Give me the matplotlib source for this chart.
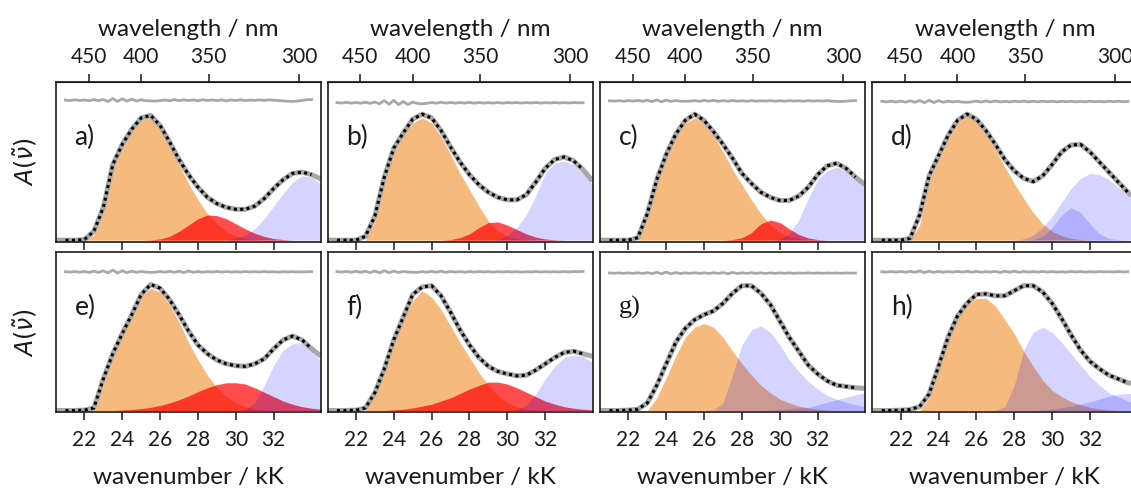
import numpy as np
import matplotlib
matplotlib.use("Agg")
import matplotlib.pyplot as plt

plt.rcParams['font.family'] = ['Lato', 'DejaVu Sans']
plt.rcParams['mathtext.fontset'] = 'dejavusans'

# wavenumber grid of the sampled spectra (kK)
wavenumber = np.arange(20.5, 34.51, 0.5)

panel_labels = ['a)', 'b)', 'c)', 'd)', 'e)', 'f)', 'g)', 'h)']
x_ticks = [22, 24, 26, 28, 30, 32]
nm_ticks = [450, 400, 350, 300]

# ---- fitted absorption spectra (normalised) ----
fit_a = [0, 0, 0, 0.005, 0.07, 0.26, 0.60, 0.76, 0.88, 0.97, 0.99, 0.91, 0.78, 0.64, 0.52,
         0.42, 0.34, 0.29, 0.26, 0.245, 0.245, 0.27, 0.33, 0.41, 0.48, 0.53, 0.54, 0.52, 0.485]
fit_b = [0, 0, 0, 0, 0.03, 0.19, 0.50, 0.73, 0.85, 0.96, 1.00, 0.97, 0.87, 0.74, 0.62,
         0.52, 0.44, 0.38, 0.34, 0.32, 0.32, 0.36, 0.46, 0.57, 0.64, 0.66, 0.63, 0.56, 0.47]
fit_c = [0, 0, 0, 0, 0.02, 0.21, 0.48, 0.68, 0.84, 0.95, 1.00, 0.95, 0.86, 0.76, 0.65,
         0.53, 0.45, 0.38, 0.34, 0.315, 0.315, 0.35, 0.42, 0.52, 0.59, 0.61, 0.57, 0.50, 0.44]
fit_d = [0, 0, 0, 0, 0.015, 0.20, 0.51, 0.67, 0.83, 0.95, 1.00, 0.96, 0.87, 0.76, 0.64,
         0.55, 0.49, 0.465, 0.51, 0.60, 0.70, 0.755, 0.76, 0.70, 0.62, 0.54, 0.46, 0.38, 0.32]
fit_e = [0, 0, 0, 0.003, 0.02, 0.25, 0.45, 0.61, 0.76, 0.92, 1.00, 0.97, 0.88, 0.76, 0.63,
         0.52, 0.45, 0.40, 0.37, 0.355, 0.35, 0.37, 0.41, 0.49, 0.56, 0.59, 0.56, 0.49, 0.43]
fit_f = [0, 0, 0, 0.003, 0.02, 0.14, 0.33, 0.56, 0.74, 0.92, 0.98, 0.99, 0.91, 0.78, 0.64,
         0.52, 0.42, 0.35, 0.31, 0.29, 0.275, 0.28, 0.32, 0.37, 0.42, 0.46, 0.47, 0.45, 0.43]
fit_g = [0, 0, 0, 0.003, 0.01, 0.06, 0.20, 0.37, 0.54, 0.65, 0.72, 0.76, 0.79, 0.85, 0.93,
         0.99, 0.99, 0.93, 0.84, 0.71, 0.58, 0.47, 0.36, 0.29, 0.235, 0.20, 0.19, 0.18, 0.175]
fit_h = [0, 0, 0, 0.003, 0.008, 0.03, 0.13, 0.35, 0.58, 0.75, 0.85, 0.92, 0.925, 0.91, 0.91,
         0.95, 0.99, 0.99, 0.94, 0.85, 0.73, 0.60, 0.48, 0.39, 0.33, 0.28, 0.25, 0.22, 0.21]

# ---- low-energy band (orange) ----
orange_a = [0, 0, 0, 0, 0.04, 0.22, 0.57, 0.73, 0.86, 0.95, 0.98, 0.90, 0.76, 0.60, 0.45,
            0.32, 0.21, 0.13, 0.07, 0.035, 0.015, 0.005, 0, 0, 0, 0, 0, 0, 0]
orange_b = [0, 0, 0, 0, 0, 0.15, 0.46, 0.70, 0.83, 0.93, 0.97, 0.93, 0.82, 0.68, 0.53,
            0.40, 0.27, 0.15, 0.07, 0.03, 0.012, 0.004, 0, 0, 0, 0, 0, 0, 0]
orange_c = [0, 0, 0, 0, 0, 0.17, 0.45, 0.66, 0.82, 0.93, 0.97, 0.93, 0.83, 0.70, 0.56,
            0.44, 0.32, 0.21, 0.12, 0.06, 0.03, 0.012, 0.004, 0, 0, 0, 0, 0, 0]
orange_d = [0, 0, 0, 0, 0, 0.12, 0.47, 0.64, 0.80, 0.93, 0.98, 0.95, 0.84, 0.72, 0.58,
            0.45, 0.33, 0.22, 0.13, 0.07, 0.035, 0.015, 0.005, 0, 0, 0, 0, 0, 0]
orange_e = [0, 0, 0, 0, 0.01, 0.20, 0.43, 0.60, 0.75, 0.90, 0.97, 0.94, 0.84, 0.70, 0.54,
            0.40, 0.28, 0.18, 0.11, 0.06, 0.03, 0.012, 0.004, 0, 0, 0, 0, 0, 0]
orange_f = [0, 0, 0, 0, 0, 0.12, 0.31, 0.53, 0.72, 0.87, 0.95, 0.90, 0.80, 0.67, 0.54,
            0.42, 0.30, 0.20, 0.12, 0.06, 0.03, 0.012, 0.004, 0, 0, 0, 0, 0, 0]
orange_g = [0, 0, 0, 0, 0, 0, 0.10, 0.26, 0.43, 0.58, 0.66, 0.69, 0.66, 0.58, 0.47,
            0.37, 0.28, 0.20, 0.14, 0.09, 0.06, 0.035, 0.02, 0.01, 0.004, 0, 0, 0, 0]
orange_h = [0, 0, 0, 0, 0, 0, 0.10, 0.33, 0.57, 0.74, 0.84, 0.89, 0.89, 0.83, 0.72,
            0.61, 0.47, 0.35, 0.24, 0.16, 0.11, 0.07, 0.045, 0.025, 0.012, 0.005, 0, 0, 0]

# ---- intermediate band (red) ----
red_a = [0, 0, 0, 0, 0, 0, 0, 0, 0, 0, 0.002, 0.01, 0.03, 0.07, 0.12,
         0.17, 0.20, 0.195, 0.17, 0.13, 0.09, 0.055, 0.03, 0.013, 0.005, 0, 0, 0, 0]
red_b = [0, 0, 0, 0, 0, 0, 0, 0, 0, 0, 0, 0, 0, 0.005, 0.02,
         0.05, 0.10, 0.14, 0.145, 0.12, 0.085, 0.05, 0.025, 0.01, 0.003, 0, 0, 0, 0]
red_c = [0, 0, 0, 0, 0, 0, 0, 0, 0, 0, 0, 0, 0, 0, 0.005,
         0.02, 0.06, 0.13, 0.16, 0.14, 0.09, 0.045, 0.018, 0.005, 0, 0, 0, 0, 0]
red_e = [0, 0, 0, 0, 0, 0, 0, 0.003, 0.008, 0.015, 0.025, 0.04, 0.06, 0.085, 0.115,
         0.15, 0.18, 0.205, 0.22, 0.22, 0.21, 0.18, 0.145, 0.11, 0.075, 0.05, 0.03, 0.018, 0.01]
red_f = [0, 0, 0, 0, 0, 0, 0, 0.005, 0.01, 0.02, 0.035, 0.05, 0.075, 0.10, 0.135,
         0.17, 0.20, 0.225, 0.225, 0.21, 0.18, 0.145, 0.11, 0.075, 0.05, 0.03, 0.018, 0.01, 0.005]

# ---- high-energy bands (blue) ----
blue_a = [0, 0, 0, 0, 0, 0, 0, 0, 0, 0, 0, 0, 0, 0, 0,
          0, 0, 0, 0, 0.015, 0.04, 0.09, 0.17, 0.27, 0.37, 0.46, 0.51, 0.50, 0.44]
blue_b = [0, 0, 0, 0, 0, 0, 0, 0, 0, 0, 0, 0, 0, 0, 0,
          0, 0, 0, 0.005, 0.04, 0.10, 0.20, 0.35, 0.53, 0.61, 0.63, 0.60, 0.53, 0.44]
blue_c = [0, 0, 0, 0, 0, 0, 0, 0, 0, 0, 0, 0, 0, 0, 0,
          0, 0, 0, 0, 0.01, 0.05, 0.16, 0.33, 0.48, 0.55, 0.58, 0.55, 0.48, 0.42]
blue_d = [0, 0, 0, 0, 0, 0, 0, 0, 0, 0, 0, 0, 0, 0, 0,
          0, 0.01, 0.04, 0.10, 0.19, 0.30, 0.41, 0.49, 0.53, 0.52, 0.48, 0.42, 0.37, 0.31]
blue2_d = [0, 0, 0, 0, 0, 0, 0, 0, 0, 0, 0, 0, 0, 0, 0,
           0, 0, 0.005, 0.03, 0.10, 0.20, 0.26, 0.22, 0.13, 0.05, 0.015, 0.004, 0, 0]
blue_e = [0, 0, 0, 0, 0, 0, 0, 0, 0, 0, 0, 0, 0, 0, 0,
          0, 0, 0, 0, 0, 0.005, 0.06, 0.20, 0.36, 0.48, 0.53, 0.53, 0.47, 0.39]
blue_f = [0, 0, 0, 0, 0, 0, 0, 0, 0, 0, 0, 0, 0, 0, 0,
          0, 0, 0, 0, 0, 0.005, 0.04, 0.13, 0.25, 0.35, 0.42, 0.44, 0.43, 0.38]
blue_g = [0, 0, 0, 0, 0, 0, 0, 0, 0, 0, 0, 0, 0.005, 0.06, 0.28,
          0.52, 0.64, 0.67, 0.62, 0.52, 0.40, 0.31, 0.23, 0.17, 0.12, 0.09, 0.065, 0.045, 0.03]
blue2_g = [0, 0, 0, 0, 0, 0, 0, 0, 0, 0, 0, 0, 0, 0, 0,
           0, 0, 0, 0.003, 0.008, 0.015, 0.02, 0.025, 0.045, 0.065, 0.085, 0.105, 0.125, 0.14]
blue_h = [0, 0, 0, 0, 0, 0, 0, 0, 0, 0, 0, 0, 0, 0, 0.03,
          0.20, 0.48, 0.62, 0.66, 0.62, 0.54, 0.45, 0.36, 0.27, 0.20, 0.14, 0.11, 0.075, 0.05]
blue2_h = [0, 0, 0, 0, 0, 0, 0, 0, 0, 0, 0, 0, 0, 0, 0,
           0, 0, 0, 0.003, 0.01, 0.02, 0.035, 0.05, 0.07, 0.09, 0.115, 0.13, 0.135, 0.13]

# ---- fit residuals (x 1e-3, 21.0 ... 34.0 kK in 0.25 kK steps) ----
resid_a = [2, -3, 4, -2, 3, -4, 5, -3, 6, -10, 14, -9, 12, -7, 9, -6, 4, -3, -5, -6,
           -3, 2, -4, 5, -3, 4, -2, 3, -4, 5, -2, 3, -3, 4, -5, 3, -2, 4, -3, 2,
           -1, 3, -2, 4, 1, -2, -5, -8, -9, -6, -1, 4, 6]
resid_b = [1, -2, 3, -2, 2, -3, 4, -4, 6, -8, 18, -12, 20, -15, 10, -14, 6, -5, -8, -4,
           2, -3, 4, -2, 3, -3, 2, -2, 3, -3, 2, -2, 1, -2, 2, -3, 2, -1, 2, -2,
           1, -1, 2, -2, 1, -1, 2, -1, 1, -1, 2, 0, 1]
resid_c = [1, -2, 2, -3, 3, -2, 4, -3, 5, -6, 8, -7, 6, -4, 3, -2, -3, -2, 2, -3,
           3, -2, 4, -3, 2, -2, 3, -2, 1, -3, 2, -2, 1, -1, 2, -2, 1, -2, 2, -1,
           1, -2, 2, -1, 1, -1, 2, -2, -4, -5, -2, 1, 3]
resid_d = [2, -3, 3, -4, 4, -5, 6, -6, 8, -9, 10, -8, 7, -6, 4, -3, 2, -4, -6, -3,
           3, -4, 5, -3, 4, -3, 2, -3, 3, -2, 4, -3, 2, -2, 3, -2, 2, -3, 2, -1,
           2, -2, 1, -2, 2, -1, 1, -2, 2, -1, 2, -1, 1]
resid_e = [1, -2, 2, -3, 3, -4, 5, -5, 8, -8, 14, -10, 9, -7, 5, -4, 3, -2, -4, -3,
           3, -3, 4, -4, 5, -6, 7, -4, 3, -3, 2, -2, 3, -2, 2, -2, 1, -2, 2, -1,
           1, -1, 2, -1, 1, -2, 1, -1, 1, -1, 0, 1, 2]
resid_f = [2, -2, 3, -3, 4, -4, 5, -6, 7, -8, 9, -7, 6, -5, 3, -2, -3, -4, 2, -3,
           4, -3, 5, -4, 3, -2, 2, -3, 2, -2, 2, -1, 2, -2, 1, -1, 2, -1, 1, -2,
           1, -1, 2, -1, 1, -1, 1, -1, 2, -1, 2, 1, 3]
resid_g = [1, -1, 2, -2, 2, -2, 3, -3, 4, -4, 6, -5, 8, -6, 4, -3, 2, -2, 3, -2,
           2, -3, 3, -2, 4, -5, 5, -3, 2, -2, 3, -2, 2, -3, 2, -2, 2, -1, 2, -2,
           1, -1, 2, -1, 1, -1, 1, -1, 1, -1, 1, 0, 1]
resid_h = [1, -2, 2, -2, 3, -3, 4, -4, 7, -6, 5, -4, 3, -3, 2, -2, 3, -2, 4, -3,
           3, -3, 2, -2, 3, -4, 4, -3, 5, -4, 3, -2, 2, -2, 3, -2, 2, -2, 1, -2,
           2, -1, 2, -2, 1, -1, 2, -1, 1, -1, 2, -1, 1]
resid_offset = [1.11, 1.09, 1.105, 1.10, 1.10, 1.10, 1.09, 1.10]

fits = [fit_a, fit_b, fit_c, fit_d, fit_e, fit_f, fit_g, fit_h]
oranges = [orange_a, orange_b, orange_c, orange_d, orange_e, orange_f, orange_g, orange_h]
reds = [red_a, red_b, red_c, None, red_e, red_f, None, None]
blues = [[blue_a], [blue_b], [blue_c], [blue_d, blue2_d], [blue_e], [blue_f],
         [blue_g, blue2_g], [blue_h, blue2_h]]
resids = [resid_a, resid_b, resid_c, resid_d, resid_e, resid_f, resid_g, resid_h]

ORANGE = '#f28c28'
RED = '#ff0000'
BLUE = '#0000ff'
GREY = '#a8a8a8'
INK = '#1a1a1a'

W, H = 1131, 493
fig = plt.figure(figsize=(W / 100, H / 100), dpi=100)

col_left = [56, 327.5, 600, 872.3]
row_top = [82, 252.3]
ax_w, ax_h = 265, 159.7


def kk_to_nm(k):
    k = np.asarray(k, dtype=float)
    with np.errstate(divide='ignore', invalid='ignore'):
        return 1e4 / k


for i in range(8):
    r, c = divmod(i, 4)
    ax = fig.add_axes([col_left[c] / W, 1 - (row_top[r] + ax_h) / H, ax_w / W, ax_h / H])

    ax.fill_between(wavenumber, 0, oranges[i], color=ORANGE, alpha=0.6, lw=0)
    if reds[i] is not None:
        ax.fill_between(wavenumber, 0, reds[i], color=RED, alpha=0.7, lw=0)
    for band in blues[i]:
        ax.fill_between(wavenumber, 0, band, color=BLUE, alpha=0.17, lw=0)

    # measured spectrum and fitted envelope
    ax.plot(wavenumber, fits[i], color=GREY, lw=3.6, solid_capstyle='butt')
    in_fit = (wavenumber >= 21.0) & (wavenumber <= 34.0)
    ax.plot(wavenumber[in_fit], np.asarray(fits[i])[in_fit], color='black', lw=2.2,
            linestyle=(0, (1, 1.1)))

    # residual trace above the spectrum
    res = np.asarray(resids[i]) / 1000.0
    res_k = np.linspace(21.0, 34.0, len(res))
    ax.plot(res_k, resid_offset[i] + res, color=GREY, lw=2.0)

    ax.set_xlim(20.5, 34.5)
    ax.set_ylim(-0.012, 1.255)
    ax.set_yticks([])
    ax.set_xticks(x_ticks)
    ax.tick_params(axis='x', direction='out', length=6, width=1.1, color=INK,
                   labelsize=15, labelcolor=INK, pad=7)
    for sp in ax.spines.values():
        sp.set_linewidth(1.2)
        sp.set_color(INK)

    label_font = ['Liberation Serif'] if panel_labels[i] == 'g)' else ['Lato', 'DejaVu Sans']
    ax.text(0.07, 0.655, panel_labels[i], transform=ax.transAxes, fontsize=19,
            ha='left', va='center', color=INK, family=label_font)

    if r == 0:
        ax.tick_params(axis='x', labelbottom=False)
        top = ax.secondary_xaxis('top', functions=(kk_to_nm, kk_to_nm))
        top.set_xticks(nm_ticks)
        top.tick_params(direction='out', length=6, width=1.1, color=INK,
                        labelsize=15, labelcolor=INK, pad=5)
        top.set_xlabel('wavelength / nm', fontsize=17.5, color=INK, labelpad=8)
    else:
        ax.set_xlabel('wavenumber / kK', fontsize=17.5, color=INK, labelpad=12)

    if c == 0:
        ax.set_ylabel(r'$A(\tilde{\nu})$', fontsize=17, color=INK, labelpad=12)

fig.savefig('out.png', dpi=100)
